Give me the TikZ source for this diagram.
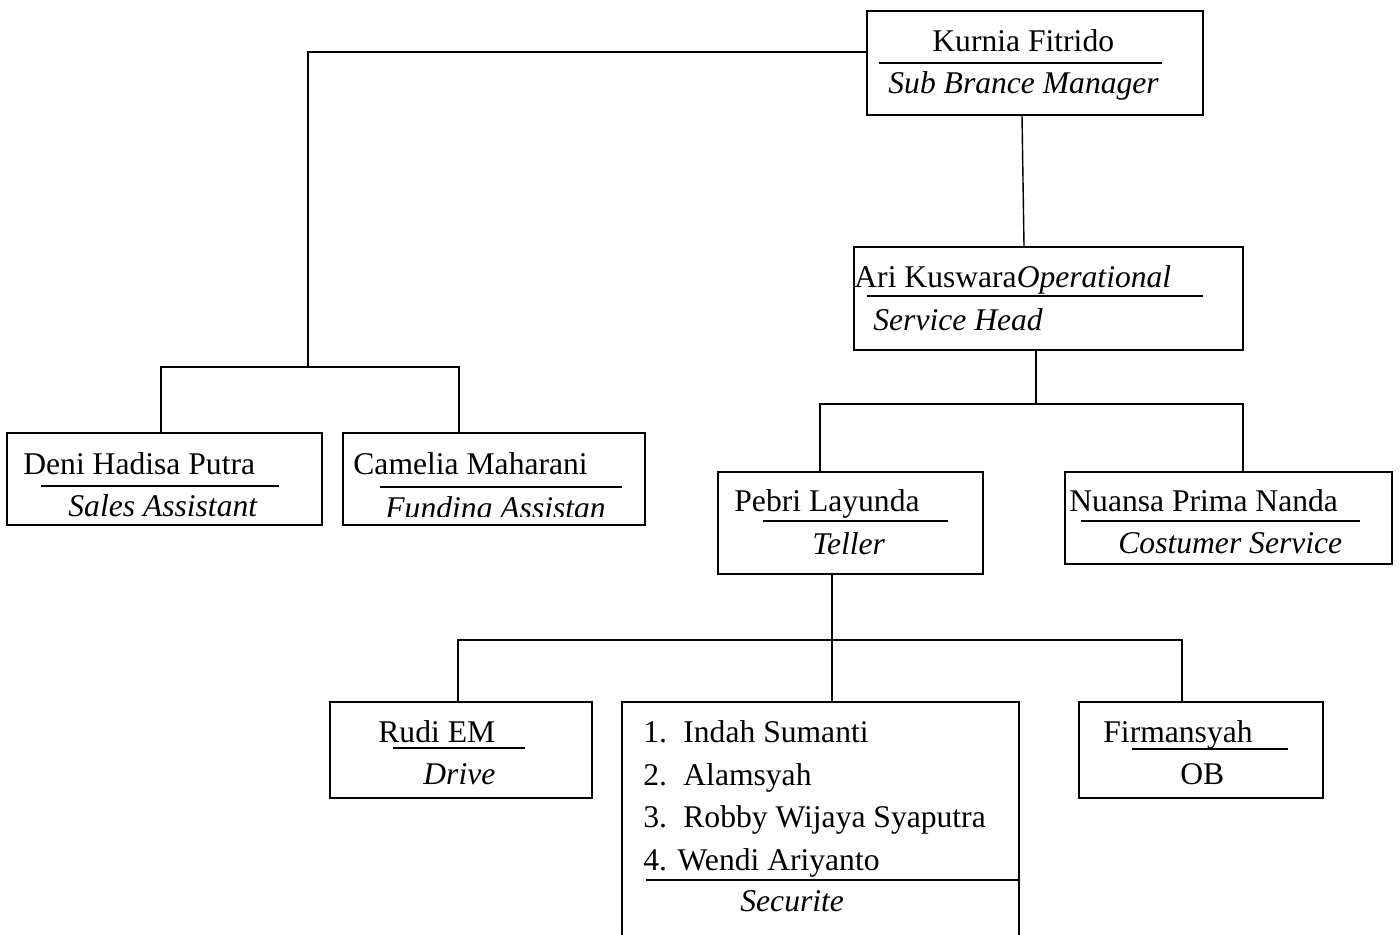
\documentclass[tikz,border=0pt]{standalone}
\usepackage{fontspec}
\setmainfont{Liberation Serif}
\begin{document}
\begin{tikzpicture}[x=0.5pt,y=-0.5pt,
  box/.style={draw, line width=1pt, inner sep=0pt, rectangle},
  lbl/.style={anchor=base west, inner sep=0pt, font=\fontsize{15.8}{19}\selectfont},
  ilbl/.style={anchor=base west, inner sep=0pt, font=\fontsize{15.8}{19}\selectfont\itshape},
  rule/.style={line width=0.9pt},
  link/.style={line width=0.7pt}]
\useasboundingbox (0,0) rectangle (1400,934);
\clip (0,0) rectangle (1400,934);

% boxes
\node[box, minimum width=168pt, minimum height=52pt] (kf) at (1035,63) {};
\node[box, minimum width=194.5pt, minimum height=51.5pt] (ari) at (1048.5,298.5) {};
\node[box, minimum width=157.5pt, minimum height=46pt] (deni) at (164.5,479) {};
\node[box, minimum width=151pt, minimum height=46pt] (cam) at (494,479) {};
\node[box, minimum width=132.5pt, minimum height=51pt] (pebri) at (850.5,523) {};
\node[box, minimum width=163.5pt, minimum height=46pt] (nuansa) at (1228.5,518) {};
\node[box, minimum width=131pt, minimum height=48pt] (rudi) at (461,750) {};
\node[box, minimum width=198.5pt, minimum height=139pt] (list) at (820.5,841) {};
\node[box, minimum width=122pt, minimum height=48pt] (firm) at (1201,750) {};

% junction coordinates
\coordinate (h0) at (308,52);
\coordinate (j0) at (308,367);
\coordinate (j1) at (161,367);
\coordinate (j2) at (459,367);
\coordinate (t1) at (1022,0);
\coordinate (t2) at (1024,0);
\coordinate (j3) at (1036,404);
\coordinate (j4) at (820,404);
\coordinate (j5) at (1243,404);
\coordinate (j6) at (832,640);
\coordinate (j7) at (458,640);
\coordinate (j8) at (1182,640);

% connectors
\draw[link] (kf.west |- h0) -- (h0) -- (j0);
\draw[link] (j1 |- deni.north) -- (j1) -- (j2) -- (j2 |- cam.north);
\draw[link] (t1 |- kf.south) -- (t2 |- ari.north);
\draw[link] (j3 |- ari.south) -- (j3);
\draw[link] (j4 |- pebri.north) -- (j4) -- (j5) -- (j5 |- nuansa.north);
\draw[link] (j6 |- pebri.south) -- (j6);
\draw[link] (j7 |- rudi.north) -- (j7) -- (j8) -- (j8 |- firm.north);
\draw[link] (j6) -- (j6 |- list.north);

% Kurnia
\node[lbl] (kfn) at (932,51) {Kurnia Fitrido};
\draw[rule] (879,63) -- (1162,63);
\node[ilbl] (kfr) at (888,93) {Sub Brance Manager};

% Ari
\node[lbl] (arn) at (854,287) {Ari Kuswara\textit{Operational}};
\draw[rule] (867,296) -- (1203,296);
\node[ilbl] (arr) at (873,330) {Service Head};

% Deni
\node[lbl] (den) at (23,474) {Deni Hadisa Putra};
\draw[rule] (41,486) -- (279,486);
\node[ilbl] (der) at (68,516) {Sales Assistant};

% Camelia
\node[lbl] (can) at (353,474) {Camelia Maharani};
\draw[rule] (380,487) -- (622,487);
\begin{scope}
  \clip (343,433) rectangle (645,516);
  \node[ilbl] (car) at (385,518) {Funding Assistan};
\end{scope}

% Pebri
\node[lbl] (pen) at (734,511) {Pebri Layunda};
\draw[rule] (763,521) -- (948,521);
\node[ilbl] (per) at (812,554) {Teller};

% Nuansa
\node[lbl] (nun) at (1069,511) {Nuansa Prima Nanda};
\draw[rule] (1081,521) -- (1360,521);
\node[ilbl] (nur) at (1118,553) {Costumer Service};

% Rudi
\node[lbl] (run) at (378,742) {Rudi EM};
\draw[rule] (393,748) -- (525,748);
\node[ilbl] (rur) at (423,784) {Drive};

% list
\node[lbl] (n1) at (643,742) {1.};
\node[lbl] (l1) at (683,742) {Indah Sumanti};
\node[lbl] (n2) at (643,785) {2.};
\node[lbl] (l2) at (683,785) {Alamsyah};
\node[lbl] (n3) at (643,827) {3.};
\node[lbl] (l3) at (683,827) {Robby Wijaya Syaputra};
\node[lbl] (l4) at (643,870) {4. Wendi Ariyanto};
\draw[rule] (646,880) -- (1020,880);
\node[ilbl] (lr) at (740,911) {Securite};

% Firmansyah
\node[lbl] (fin) at (1103,742) {Firmansyah};
\draw[rule] (1132,749) -- (1288,749);
\node[lbl] (fir) at (1180,784) {OB};
\end{tikzpicture}
\end{document}
